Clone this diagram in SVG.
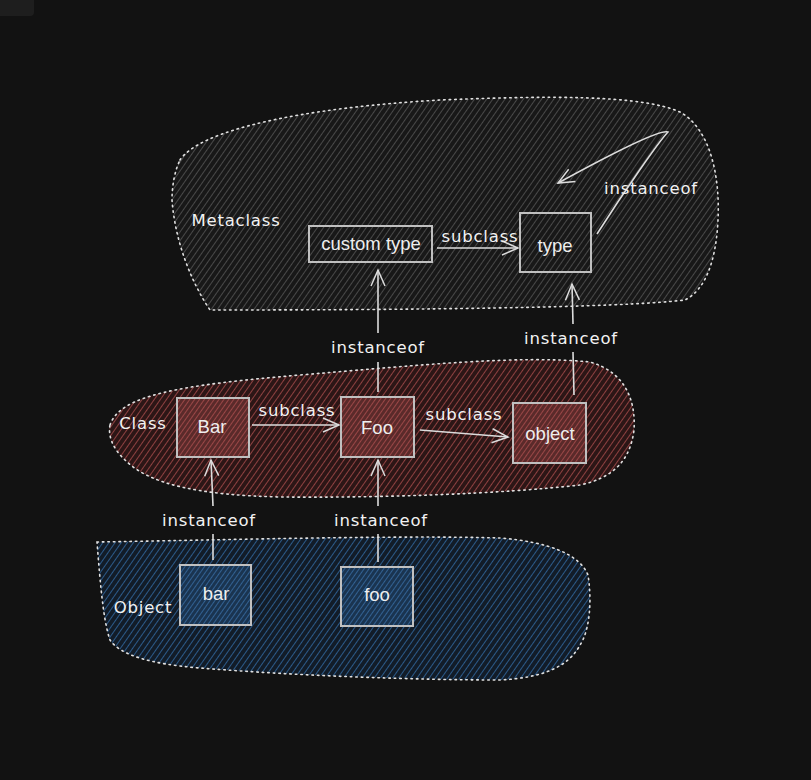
<svg xmlns="http://www.w3.org/2000/svg" width="811" height="780" viewBox="0 0 811 780">
<defs>
<pattern id="hg" width="5" height="5" patternUnits="userSpaceOnUse" patternTransform="rotate(35)"><rect width="5" height="5" fill="#181818"/><line x1="0" y1="0" x2="0" y2="5" stroke="#5e5e5e" stroke-width="1.4"/></pattern>
<pattern id="hr" width="5" height="5" patternUnits="userSpaceOnUse" patternTransform="rotate(35)"><rect width="5" height="5" fill="#2c1616"/><line x1="0" y1="0" x2="0" y2="5" stroke="#a04848" stroke-width="1.7"/></pattern>
<pattern id="hb" width="5" height="5" patternUnits="userSpaceOnUse" patternTransform="rotate(35)"><rect width="5" height="5" fill="#121c28"/><line x1="0" y1="0" x2="0" y2="5" stroke="#30659a" stroke-width="1.7"/></pattern>
<pattern id="nr" width="4" height="4" patternUnits="userSpaceOnUse" patternTransform="rotate(35)"><rect width="4" height="4" fill="#5a2a2a"/><line x1="0" y1="0" x2="0" y2="4" stroke="#b05050" stroke-width="1.5"/></pattern>
<pattern id="nb" width="4" height="4" patternUnits="userSpaceOnUse" patternTransform="rotate(35)"><rect width="4" height="4" fill="#1a3450"/><line x1="0" y1="0" x2="0" y2="4" stroke="#3a70a8" stroke-width="1.5"/></pattern>
<marker id="ah" viewBox="0 0 20 20" refX="18" refY="10" markerWidth="20" markerHeight="20" markerUnits="userSpaceOnUse" orient="auto"><path d="M2,3 L18,10 L2,17" fill="none" stroke="#dcdcdc" stroke-width="1.5"/></marker>
<style>
.blob{stroke:#e0e0e0;stroke-width:1.6;stroke-dasharray:1.5 4;stroke-linecap:round}
.node rect{stroke:#c0c0c0;stroke-width:2}
.nt{font-family:"Liberation Sans",Arial,sans-serif;font-size:18.5px;fill:#eeeeee;text-anchor:middle;dominant-baseline:central}
.hl{font-family:"DejaVu Sans","Liberation Sans",sans-serif;font-size:16.5px;letter-spacing:0.8px;fill:#f2f2f2;text-anchor:middle;dominant-baseline:central}
.c{fill:none;stroke:#dcdcdc;stroke-width:1.6;marker-end:url(#ah)}
.c2{fill:none;stroke:#dcdcdc;stroke-width:1.6}
</style>
</defs>
<rect width="811" height="780" fill="#121212"/>
<rect x="-8" y="-8" width="42" height="24" rx="4" fill="#1e1e1e"/>

<g id="group-metaclass">
<path class="blob" fill="url(#hg)" d="M180,160 C200,130 300,108 440,100 C540,96 640,94 680,112 C712,130 720,180 718,220 C716,262 705,290 685,300 C620,308 400,310 210,310 C190,280 175,240 172,200 C172,185 175,170 180,160 Z"/>
<text class="hl" x="236" y="220">Metaclass</text>
</g>
<g id="group-class">
<path class="blob" fill="url(#hr)" d="M110,425 C120,395 180,385 300,375 C420,365 520,355 590,362 C625,372 636,400 634,430 C630,462 612,478 580,485 C500,494 380,498 280,497 C200,495 150,485 125,460 C112,448 108,435 110,425 Z"/>
<text class="hl" x="143" y="423">Class</text>
</g>
<g id="group-object">
<path class="blob" fill="url(#hb)" d="M97,542 C220,540 400,535 500,538 C550,542 580,555 588,575 C592,600 590,630 580,645 C568,668 540,678 500,680 C420,680 300,676 200,668 C150,664 120,655 110,640 C103,620 100,580 97,542 Z"/>
<text class="hl" x="143" y="607">Object</text>
</g>

<g id="connectors">
<path class="c" d="M437,248 L518,248"/>
<text class="hl" x="480" y="236">subclass</text>
<path class="c2" d="M378,392 L378,362"/>
<path class="c" d="M378,333 L378,270"/>
<text class="hl" x="378" y="347">instanceof</text>
<path class="c2" d="M574,395 L573,352"/>
<path class="c" d="M573,324 L572,284"/>
<text class="hl" x="571" y="338">instanceof</text>
<path class="c" d="M252,425 L339,425"/>
<text class="hl" x="297" y="410">subclass</text>
<path class="c" d="M420,430 L508,437"/>
<text class="hl" x="464" y="414">subclass</text>
<path class="c2" d="M213,560 L213,534"/>
<path class="c" d="M213,506 L211,460"/>
<text class="hl" x="209" y="520">instanceof</text>
<path class="c2" d="M378,562 L378,534"/>
<path class="c" d="M378,506 L378,460"/>
<text class="hl" x="381" y="520">instanceof</text>
<path class="c" d="M597,234 C625,190 660,140 668,132 C660,128 600,160 558,183"/>
<text class="hl" x="651" y="188">instanceof</text>
</g>

<g id="node-custom-type" class="node"><rect x="309" y="226" width="123" height="36" fill="url(#hg)"/><text class="nt" x="371" y="243">custom type</text></g>
<g id="node-type" class="node"><rect x="520" y="213" width="71" height="59" fill="url(#hg)"/><text class="nt" x="555" y="245">type</text></g>
<g id="node-Bar" class="node"><rect x="177" y="398" width="72" height="59" fill="url(#nr)"/><text class="nt" x="212" y="426">Bar</text></g>
<g id="node-Foo" class="node"><rect x="341" y="397" width="73" height="60" fill="url(#nr)"/><text class="nt" x="377" y="427">Foo</text></g>
<g id="node-object" class="node"><rect x="513" y="403" width="73" height="60" fill="url(#nr)"/><text class="nt" x="550" y="433">object</text></g>
<g id="node-bar" class="node"><rect x="180" y="565" width="71" height="60" fill="url(#nb)"/><text class="nt" x="216" y="593">bar</text></g>
<g id="node-foo" class="node"><rect x="341" y="567" width="72" height="59" fill="url(#nb)"/><text class="nt" x="377" y="594">foo</text></g>
</svg>
